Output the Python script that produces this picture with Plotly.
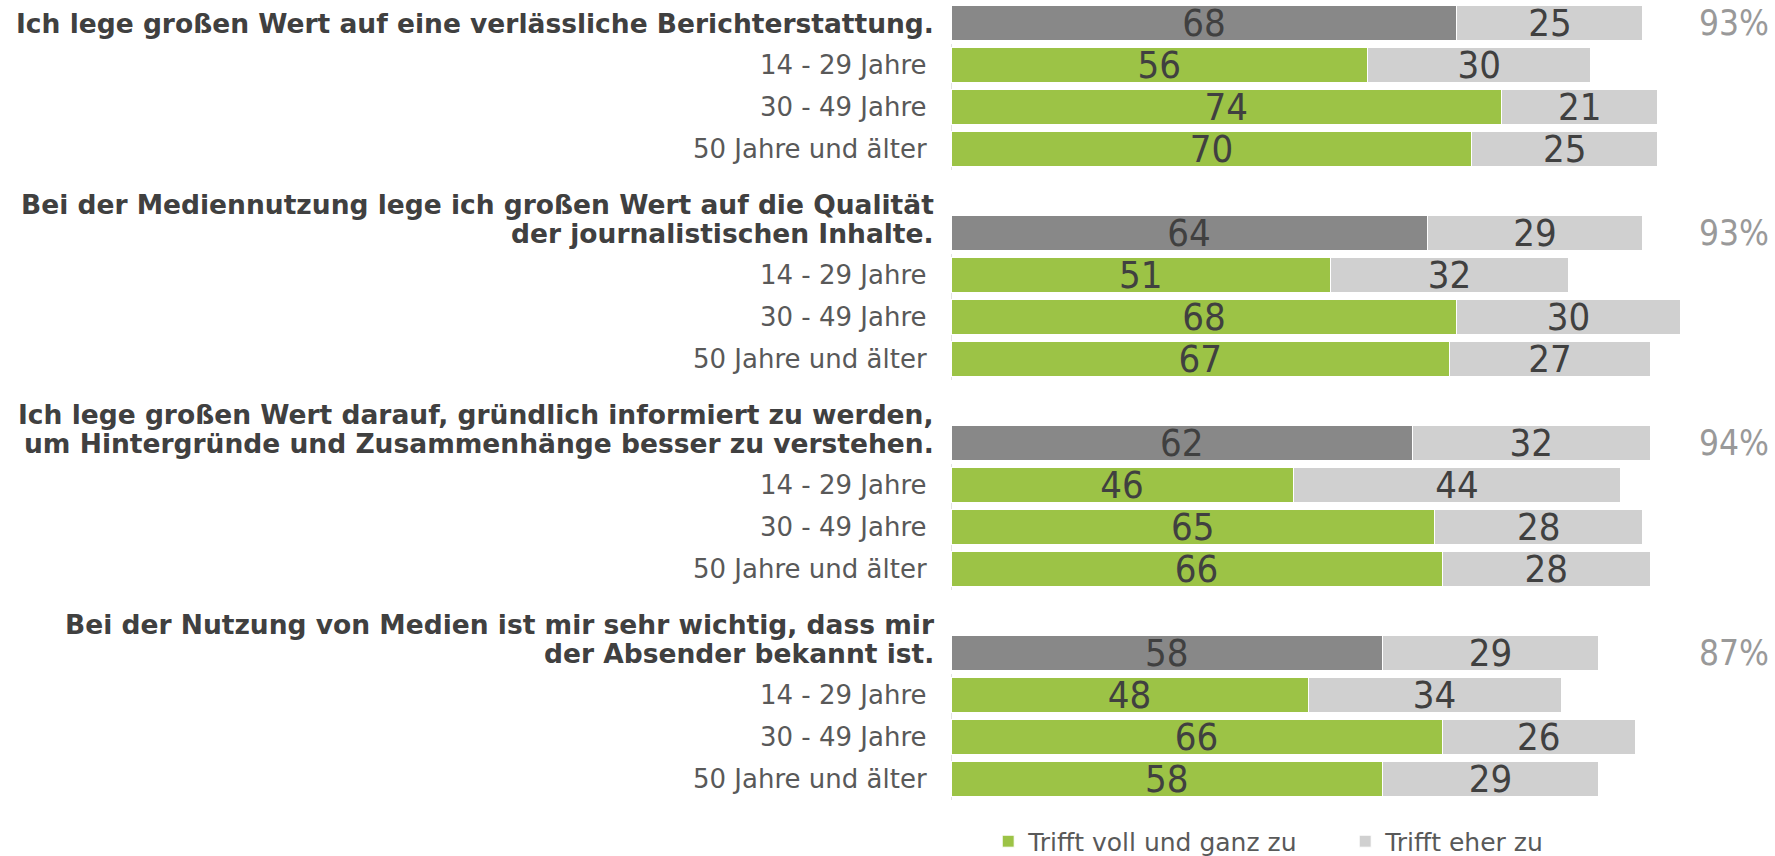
import plotly.graph_objects as go

# Aussagen (Gruppentitel), Altersgruppen und Werte
statements = [
    ["Ich lege großen Wert auf eine verlässliche Berichterstattung."],
    ["Bei der Mediennutzung lege ich großen Wert auf die Qualität",
     "der journalistischen Inhalte."],
    ["Ich lege großen Wert darauf, gründlich informiert zu werden,",
     "um Hintergründe und Zusammenhänge besser zu verstehen."],
    ["Bei der Nutzung von Medien ist mir sehr wichtig, dass mir",
     "der Absender bekannt ist."],
]
age_groups = ["14 - 29 Jahre", "30 - 49 Jahre", "50 Jahre und älter"]

total_voll = [68, 64, 62, 58]
total_eher = [25, 29, 32, 29]
total_sum = ["93%", "93%", "94%", "87%"]

age_voll = [[56, 74, 70], [51, 68, 67], [46, 65, 66], [48, 66, 58]]
age_eher = [[30, 21, 25], [32, 30, 27], [44, 28, 28], [34, 26, 29]]

GREEN = "#9CC346"
DARK = "#888888"
LIGHT = "#D0D0D0"
TXT = "#404040"
COND = "DejaVu Sans Condensed"
SANS = "DejaVu Sans"

# Slots: Gesamt-Zeile pro Gruppe, dann drei Altersgruppen, dann eine Leerzeile
main_y, age_y, age_x, age_x2 = [], [], [], []
for g in range(len(statements)):
    base = g * 5
    main_y.append(base)
    for a in range(len(age_groups)):
        age_y.append(base + 1 + a)
        age_x.append(age_voll[g][a])
        age_x2.append(age_eher[g][a])

fig = go.Figure()

bar_text = dict(textposition="inside", insidetextanchor="middle", constraintext="none", textangle=0,
                textfont=dict(size=38, color=TXT, family=COND), hoverinfo="skip")

fig.add_trace(go.Bar(
    y=main_y, x=total_voll, orientation="h", marker=dict(color=DARK, line=dict(color="white", width=1)),
    text=total_voll, showlegend=False, name="Gesamt", **bar_text,
))
fig.add_trace(go.Bar(
    y=age_y, x=age_x, orientation="h", marker=dict(color=GREEN, line=dict(color="white", width=1)),
    text=age_x, name="Trifft voll und ganz zu", **bar_text,
))
fig.add_trace(go.Bar(
    y=main_y + age_y, x=total_eher + age_x2, orientation="h",
    marker=dict(color=LIGHT, line=dict(color="white", width=1)),
    text=total_eher + age_x2, name="Trifft eher zu", **bar_text,
))

annotations = []
for g, lines in enumerate(statements):
    base = g * 5
    for k, line in enumerate(reversed(lines)):
        annotations.append(dict(
            x=0, xref="paper", y=base, yref="y", xanchor="right", yanchor="middle",
            xshift=-15, yshift=29 * k, text="<b>" + line + "</b>", showarrow=False,
            font=dict(size=26.5, color=TXT, family=SANS),
        ))
    annotations.append(dict(
        x=1, xref="paper", y=base, yref="y", xanchor="right", yanchor="middle",
        xshift=76, text=total_sum[g], showarrow=False,
        font=dict(size=35, color="#999999", family=COND),
    ))
    for a, lab in enumerate(age_groups):
        annotations.append(dict(
            x=0, xref="paper", y=base + 1 + a, yref="y", xanchor="right", yanchor="middle",
            xshift=-22, text=lab, showarrow=False,
            font=dict(size=26, color="#595959", family=SANS),
        ))

shapes = []
for g in range(len(statements)):
    base = g * 5
    shapes.append(dict(type="line", xref="x", yref="y", x0=0, x1=0, y0=base + 0.5, y1=base + 3.5,
                       line=dict(color="#D9D9D9", width=1.5), layer="below"))

fig.update_layout(
    width=1775, height=856,
    barmode="stack", bargap=0.17,
    plot_bgcolor="white", paper_bgcolor="white",
    margin=dict(l=951, r=80, t=2, b=56, autoexpand=False),
    xaxis=dict(range=[0, 100], visible=False),
    yaxis=dict(range=[18.5, -0.5], visible=False),
    annotations=annotations, shapes=shapes,
    legend=dict(orientation="h", x=0.05, xanchor="left", y=0.017, yref="container", yanchor="middle",
                entrywidth=312, entrywidthmode="pixels",
                font=dict(size=25, color="#595959", family=SANS), traceorder="normal"),
    font=dict(family=SANS),
)

fig.write_html("out.html", config={"displayModeBar": False},
               post_script="document.body.style.margin='0';")
